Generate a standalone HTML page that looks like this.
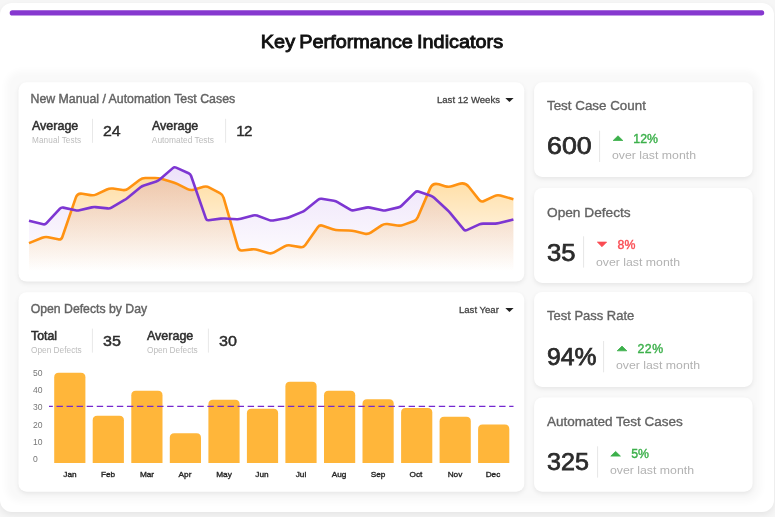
<!DOCTYPE html>
<html lang="en">
<head>
<meta charset="utf-8">
<title>Key Performance Indicators</title>
<style>
html,body{margin:0;padding:0;}
body{width:775px;height:517px;overflow:hidden;background:#f6f6f6;font-family:"Liberation Sans", sans-serif;position:relative;}
.t{position:absolute;white-space:nowrap;line-height:1;}
.outer{position:absolute;left:0;top:3px;width:774px;height:509px;background:#fff;border-radius:12px;box-shadow:0 3px 7px rgba(0,0,0,0.07);}
.panel{position:absolute;left:11px;top:76px;width:745px;height:421px;background:#f9f9f9;border-radius:10px;box-shadow:0 0 7px 5px #f9f9f9;}
</style>
</head>
<body>
<div class="outer"></div>
<div class="panel"></div>

<svg width="775" height="517" viewBox="0 0 775 517" style="position:absolute;left:0;top:0">
<defs>
<linearGradient id="go" gradientUnits="userSpaceOnUse" x1="0" y1="175" x2="0" y2="271">
<stop offset="0" stop-color="#ffb433" stop-opacity="0.46"/><stop offset="1" stop-color="#ffb433" stop-opacity="0"/></linearGradient>
<linearGradient id="gp" gradientUnits="userSpaceOnUse" x1="0" y1="165" x2="0" y2="271">
<stop offset="0" stop-color="#8a3fd8" stop-opacity="0.16"/><stop offset="1" stop-color="#8a3fd8" stop-opacity="0"/></linearGradient>
<filter id="sh" x="-10%" y="-20%" width="120%" height="140%"><feGaussianBlur stdDeviation="2.2"/></filter>
</defs>
<rect x="18.50" y="84.30" width="505.80" height="199.30" rx="8" fill="#000" fill-opacity="0.075" filter="url(#sh)"/><rect x="18.50" y="82.30" width="505.80" height="199.30" rx="8" fill="#fff"/><rect x="18.50" y="294.20" width="505.80" height="199.50" rx="8" fill="#000" fill-opacity="0.075" filter="url(#sh)"/><rect x="18.50" y="292.20" width="505.80" height="199.50" rx="8" fill="#fff"/><rect x="534.10" y="84.30" width="218.50" height="94.60" rx="8" fill="#000" fill-opacity="0.075" filter="url(#sh)"/><rect x="534.10" y="82.30" width="218.50" height="94.60" rx="8" fill="#fff"/><rect x="534.10" y="190.00" width="218.50" height="94.90" rx="8" fill="#000" fill-opacity="0.075" filter="url(#sh)"/><rect x="534.10" y="188.00" width="218.50" height="94.90" rx="8" fill="#fff"/><rect x="534.10" y="294.00" width="218.50" height="94.90" rx="8" fill="#000" fill-opacity="0.075" filter="url(#sh)"/><rect x="534.10" y="292.00" width="218.50" height="94.90" rx="8" fill="#fff"/><rect x="534.10" y="399.50" width="218.50" height="94.20" rx="8" fill="#000" fill-opacity="0.075" filter="url(#sh)"/><rect x="534.10" y="397.50" width="218.50" height="94.20" rx="8" fill="#fff"/>
<rect x="599.10" y="130.70" width="1" height="31.30" fill="#e6e6e6"/><rect x="583.10" y="236.30" width="1" height="31.30" fill="#e6e6e6"/><rect x="603.10" y="341.00" width="1" height="31.30" fill="#e6e6e6"/><rect x="597.10" y="446.30" width="1" height="31.30" fill="#e6e6e6"/><rect x="92.00" y="118.80" width="1" height="24.00" fill="#e8e8e8"/><rect x="225.10" y="118.80" width="1" height="24.00" fill="#e8e8e8"/><rect x="91.90" y="328.60" width="1" height="24.00" fill="#e8e8e8"/><rect x="207.90" y="328.60" width="1" height="24.00" fill="#e8e8e8"/>
<path d="M29.00,243.10 L42.18,237.71 Q45.15,236.50 48.27,237.18 L58.17,239.32 Q61.29,240.00 62.33,236.97 L75.82,197.63 Q77.44,192.90 82.37,193.75 L90.43,195.15 Q93.59,195.70 96.48,194.34 L106.84,189.46 Q109.73,188.10 112.90,188.57 L122.71,190.03 Q125.88,190.50 128.41,188.54 L139.50,179.96 Q142.03,178.00 145.23,178.00 L154.97,178.00 Q158.17,178.00 161.26,178.86 L171.24,181.64 Q174.32,182.50 177.19,183.92 L187.60,189.08 Q190.47,190.50 193.55,189.64 L203.53,186.86 Q206.61,186.00 209.43,187.52 L219.94,193.18 Q222.76,194.70 223.65,197.78 L238.02,247.72 Q238.91,250.80 242.09,250.45 L251.87,249.35 Q255.05,249.00 258.11,249.95 L268.14,253.05 Q271.20,254.00 273.99,252.43 L284.56,246.47 Q287.35,244.90 290.50,245.45 L300.34,247.15 Q303.49,247.70 305.33,245.08 L317.80,227.32 Q319.64,224.70 322.67,225.73 L332.76,229.17 Q335.79,230.20 338.99,230.28 L348.73,230.52 Q351.93,230.60 355.05,231.33 L364.97,233.67 Q368.08,234.40 370.74,232.62 L381.57,225.38 Q384.23,223.60 387.39,224.07 L397.21,225.53 Q400.37,226.00 403.38,224.90 L413.51,221.20 Q416.52,220.10 417.78,217.16 L430.11,188.38 Q432.67,182.40 438.89,184.29 L444.99,186.14 Q448.81,187.30 452.61,186.03 L458.80,183.96 Q464.96,181.90 468.98,187.01 L479.13,199.89 Q481.11,202.40 484.00,201.02 L494.36,196.08 Q497.25,194.70 500.34,195.56 L513.40,199.20 L513.4,273.0 L29.0,273.0 Z" fill="url(#go)"/>
<path d="M29.00,220.80 L43.20,224.23 Q45.15,224.70 46.50,223.23 L59.94,208.67 Q61.29,207.20 63.25,207.62 L75.49,210.28 Q77.44,210.70 79.39,210.24 L91.64,207.36 Q93.59,206.90 95.58,207.11 L107.74,208.39 Q109.73,208.60 111.46,207.59 L124.15,200.21 Q125.88,199.20 127.43,197.93 L140.48,187.27 Q142.03,186.00 143.93,185.39 L156.27,181.41 Q158.17,180.80 159.68,179.49 L172.81,168.11 Q174.32,166.80 176.14,167.62 L188.64,173.28 Q190.47,174.10 191.12,175.99 L205.96,218.61 Q206.61,220.50 208.60,220.24 L220.78,218.66 Q222.76,218.40 224.76,218.52 L236.91,219.28 Q238.91,219.40 240.83,218.86 L253.13,215.44 Q255.05,214.90 256.93,215.59 L269.32,220.11 Q271.20,220.80 273.17,220.46 L285.38,218.34 Q287.35,218.00 289.20,217.24 L301.64,212.16 Q303.49,211.40 305.06,210.15 L318.08,199.75 Q319.64,198.50 321.62,198.81 L333.81,200.69 Q335.79,201.00 337.50,202.03 L350.22,209.67 Q351.93,210.70 353.89,210.28 L366.13,207.62 Q368.08,207.20 370.03,207.62 L382.27,210.28 Q384.23,210.70 386.17,210.24 L398.43,207.36 Q400.37,206.90 401.79,205.49 L415.10,192.31 Q416.52,190.90 418.41,191.54 L430.77,195.76 Q432.67,196.40 434.13,197.76 L447.35,210.04 Q448.81,211.40 450.09,212.94 L463.68,229.36 Q464.96,230.90 466.78,230.08 L479.28,224.42 Q481.11,223.60 483.11,223.60 L495.25,223.60 Q497.25,223.60 499.19,223.10 L513.40,219.40 L513.4,273.0 L29.0,273.0 Z" fill="url(#gp)"/>
<path d="M29.00,243.10 L42.18,237.71 Q45.15,236.50 48.27,237.18 L58.17,239.32 Q61.29,240.00 62.33,236.97 L75.82,197.63 Q77.44,192.90 82.37,193.75 L90.43,195.15 Q93.59,195.70 96.48,194.34 L106.84,189.46 Q109.73,188.10 112.90,188.57 L122.71,190.03 Q125.88,190.50 128.41,188.54 L139.50,179.96 Q142.03,178.00 145.23,178.00 L154.97,178.00 Q158.17,178.00 161.26,178.86 L171.24,181.64 Q174.32,182.50 177.19,183.92 L187.60,189.08 Q190.47,190.50 193.55,189.64 L203.53,186.86 Q206.61,186.00 209.43,187.52 L219.94,193.18 Q222.76,194.70 223.65,197.78 L238.02,247.72 Q238.91,250.80 242.09,250.45 L251.87,249.35 Q255.05,249.00 258.11,249.95 L268.14,253.05 Q271.20,254.00 273.99,252.43 L284.56,246.47 Q287.35,244.90 290.50,245.45 L300.34,247.15 Q303.49,247.70 305.33,245.08 L317.80,227.32 Q319.64,224.70 322.67,225.73 L332.76,229.17 Q335.79,230.20 338.99,230.28 L348.73,230.52 Q351.93,230.60 355.05,231.33 L364.97,233.67 Q368.08,234.40 370.74,232.62 L381.57,225.38 Q384.23,223.60 387.39,224.07 L397.21,225.53 Q400.37,226.00 403.38,224.90 L413.51,221.20 Q416.52,220.10 417.78,217.16 L430.11,188.38 Q432.67,182.40 438.89,184.29 L444.99,186.14 Q448.81,187.30 452.61,186.03 L458.80,183.96 Q464.96,181.90 468.98,187.01 L479.13,199.89 Q481.11,202.40 484.00,201.02 L494.36,196.08 Q497.25,194.70 500.34,195.56 L513.40,199.20" fill="none" stroke="#ff9212" stroke-width="2.6" stroke-linejoin="round" stroke-linecap="butt"/>
<path d="M29.00,220.80 L43.20,224.23 Q45.15,224.70 46.50,223.23 L59.94,208.67 Q61.29,207.20 63.25,207.62 L75.49,210.28 Q77.44,210.70 79.39,210.24 L91.64,207.36 Q93.59,206.90 95.58,207.11 L107.74,208.39 Q109.73,208.60 111.46,207.59 L124.15,200.21 Q125.88,199.20 127.43,197.93 L140.48,187.27 Q142.03,186.00 143.93,185.39 L156.27,181.41 Q158.17,180.80 159.68,179.49 L172.81,168.11 Q174.32,166.80 176.14,167.62 L188.64,173.28 Q190.47,174.10 191.12,175.99 L205.96,218.61 Q206.61,220.50 208.60,220.24 L220.78,218.66 Q222.76,218.40 224.76,218.52 L236.91,219.28 Q238.91,219.40 240.83,218.86 L253.13,215.44 Q255.05,214.90 256.93,215.59 L269.32,220.11 Q271.20,220.80 273.17,220.46 L285.38,218.34 Q287.35,218.00 289.20,217.24 L301.64,212.16 Q303.49,211.40 305.06,210.15 L318.08,199.75 Q319.64,198.50 321.62,198.81 L333.81,200.69 Q335.79,201.00 337.50,202.03 L350.22,209.67 Q351.93,210.70 353.89,210.28 L366.13,207.62 Q368.08,207.20 370.03,207.62 L382.27,210.28 Q384.23,210.70 386.17,210.24 L398.43,207.36 Q400.37,206.90 401.79,205.49 L415.10,192.31 Q416.52,190.90 418.41,191.54 L430.77,195.76 Q432.67,196.40 434.13,197.76 L447.35,210.04 Q448.81,211.40 450.09,212.94 L463.68,229.36 Q464.96,230.90 466.78,230.08 L479.28,224.42 Q481.11,223.60 483.11,223.60 L495.25,223.60 Q497.25,223.60 499.19,223.10 L513.40,219.40" fill="none" stroke="#7d36d2" stroke-width="2.6" stroke-linejoin="round" stroke-linecap="butt"/>
<path d="M54.2,463.0 L54.2,377.2 Q54.2,372.7 58.7,372.7 L80.9,372.7 Q85.4,372.7 85.4,377.2 L85.4,463.0 Z" fill="#ffb63a"/>
<path d="M92.7,463.0 L92.7,420.2 Q92.7,415.7 97.2,415.7 L119.4,415.7 Q123.9,415.7 123.9,420.2 L123.9,463.0 Z" fill="#ffb63a"/>
<path d="M131.3,463.0 L131.3,395.3 Q131.3,390.8 135.8,390.8 L158.0,390.8 Q162.5,390.8 162.5,395.3 L162.5,463.0 Z" fill="#ffb63a"/>
<path d="M169.8,463.0 L169.8,437.7 Q169.8,433.2 174.3,433.2 L196.5,433.2 Q201.0,433.2 201.0,437.7 L201.0,463.0 Z" fill="#ffb63a"/>
<path d="M208.4,463.0 L208.4,404.3 Q208.4,399.8 212.9,399.8 L235.1,399.8 Q239.6,399.8 239.6,404.3 L239.6,463.0 Z" fill="#ffb63a"/>
<path d="M246.9,463.0 L246.9,413.3 Q246.9,408.8 251.4,408.8 L273.6,408.8 Q278.1,408.8 278.1,413.3 L278.1,463.0 Z" fill="#ffb63a"/>
<path d="M285.4,463.0 L285.4,386.2 Q285.4,381.7 289.9,381.7 L312.1,381.7 Q316.6,381.7 316.6,386.2 L316.6,463.0 Z" fill="#ffb63a"/>
<path d="M324.0,463.0 L324.0,395.3 Q324.0,390.8 328.5,390.8 L350.7,390.8 Q355.2,390.8 355.2,395.3 L355.2,463.0 Z" fill="#ffb63a"/>
<path d="M362.5,463.0 L362.5,403.7 Q362.5,399.2 367.0,399.2 L389.2,399.2 Q393.7,399.2 393.7,403.7 L393.7,463.0 Z" fill="#ffb63a"/>
<path d="M401.1,463.0 L401.1,412.6 Q401.1,408.1 405.6,408.1 L427.8,408.1 Q432.3,408.1 432.3,412.6 L432.3,463.0 Z" fill="#ffb63a"/>
<path d="M439.6,463.0 L439.6,421.3 Q439.6,416.8 444.1,416.8 L466.3,416.8 Q470.8,416.8 470.8,421.3 L470.8,463.0 Z" fill="#ffb63a"/>
<path d="M478.1,463.0 L478.1,429.0 Q478.1,424.5 482.6,424.5 L504.8,424.5 Q509.3,424.5 509.3,429.0 L509.3,463.0 Z" fill="#ffb63a"/>
<line x1="49" y1="406.4" x2="513.5" y2="406.4" stroke="#7428d0" stroke-width="1.15" stroke-dasharray="6.4 3.66" stroke-dashoffset="2.55"/>
<path d="M613.20,140.50 L618.00,135.80 L622.80,140.50 Z" fill="#3cb04b" stroke="#3cb04b" stroke-width="0.8" stroke-linejoin="round"/><path d="M597.40,242.10 L602.00,246.70 L606.60,242.10 Z" fill="#fa4b52" stroke="#fa4b52" stroke-width="0.8" stroke-linejoin="round"/><path d="M617.20,350.80 L622.00,346.10 L626.80,350.80 Z" fill="#3cb04b" stroke="#3cb04b" stroke-width="0.8" stroke-linejoin="round"/><path d="M610.80,456.10 L615.60,451.40 L620.40,456.10 Z" fill="#3cb04b" stroke="#3cb04b" stroke-width="0.8" stroke-linejoin="round"/><rect x="9.7" y="10.3" width="754.6" height="5.2" rx="2.6" fill="#8638cf"/><path d="M505.3,97.9 L513.6,97.9 L509.45,102 Z" fill="#222"/><path d="M505.3,307.9 L513.6,307.9 L509.45,312 Z" fill="#222"/></svg>
<div class="t" style="top:471.23px;font-size:8px;color:#262626;left:-80.50px;width:300px;text-align:center;-webkit-text-stroke:0.35px #262626;transform:scaleX(1.03);transform-origin:center center;">Jan</div>
<div class="t" style="top:471.23px;font-size:8px;color:#262626;left:-41.96px;width:300px;text-align:center;-webkit-text-stroke:0.35px #262626;transform:scaleX(1.03);transform-origin:center center;">Feb</div>
<div class="t" style="top:471.23px;font-size:8px;color:#262626;left:-3.42px;width:300px;text-align:center;-webkit-text-stroke:0.35px #262626;transform:scaleX(1.03);transform-origin:center center;">Mar</div>
<div class="t" style="top:471.23px;font-size:8px;color:#262626;left:35.12px;width:300px;text-align:center;-webkit-text-stroke:0.35px #262626;transform:scaleX(1.03);transform-origin:center center;">Apr</div>
<div class="t" style="top:471.23px;font-size:8px;color:#262626;left:73.66px;width:300px;text-align:center;-webkit-text-stroke:0.35px #262626;transform:scaleX(1.03);transform-origin:center center;">May</div>
<div class="t" style="top:471.23px;font-size:8px;color:#262626;left:112.20px;width:300px;text-align:center;-webkit-text-stroke:0.35px #262626;transform:scaleX(1.03);transform-origin:center center;">Jun</div>
<div class="t" style="top:471.23px;font-size:8px;color:#262626;left:150.74px;width:300px;text-align:center;-webkit-text-stroke:0.35px #262626;transform:scaleX(1.03);transform-origin:center center;">Jul</div>
<div class="t" style="top:471.23px;font-size:8px;color:#262626;left:189.28px;width:300px;text-align:center;-webkit-text-stroke:0.35px #262626;transform:scaleX(1.03);transform-origin:center center;">Aug</div>
<div class="t" style="top:471.23px;font-size:8px;color:#262626;left:227.82px;width:300px;text-align:center;-webkit-text-stroke:0.35px #262626;transform:scaleX(1.03);transform-origin:center center;">Sep</div>
<div class="t" style="top:471.23px;font-size:8px;color:#262626;left:266.36px;width:300px;text-align:center;-webkit-text-stroke:0.35px #262626;transform:scaleX(1.03);transform-origin:center center;">Oct</div>
<div class="t" style="top:471.23px;font-size:8px;color:#262626;left:304.90px;width:300px;text-align:center;-webkit-text-stroke:0.35px #262626;transform:scaleX(1.03);transform-origin:center center;">Nov</div>
<div class="t" style="top:471.23px;font-size:8px;color:#262626;left:343.44px;width:300px;text-align:center;-webkit-text-stroke:0.35px #262626;transform:scaleX(1.03);transform-origin:center center;">Dec</div>
<div class="t" style="top:455.37px;font-size:8.3px;color:#777;left:33.10px;transform:scaleX(1.03);transform-origin:left center;">0</div>
<div class="t" style="top:438.07px;font-size:8.3px;color:#777;left:33.10px;transform:scaleX(1.03);transform-origin:left center;">10</div>
<div class="t" style="top:420.77px;font-size:8.3px;color:#777;left:33.10px;transform:scaleX(1.03);transform-origin:left center;">20</div>
<div class="t" style="top:403.47px;font-size:8.3px;color:#777;left:33.10px;transform:scaleX(1.03);transform-origin:left center;">30</div>
<div class="t" style="top:386.17px;font-size:8.3px;color:#777;left:33.10px;transform:scaleX(1.03);transform-origin:left center;">40</div>
<div class="t" style="top:368.87px;font-size:8.3px;color:#777;left:33.10px;transform:scaleX(1.03);transform-origin:left center;">50</div>
<div class="t" style="top:32.12px;font-size:19.0px;color:#111;left:232.35px;width:300px;text-align:center;-webkit-text-stroke:0.9px #111;word-spacing:-1.3px;transform:scaleX(1.045);transform-origin:center center;">Key Performance Indicators</div>
<div class="t" style="top:92.96px;font-size:12.33px;color:#636363;left:30.50px;-webkit-text-stroke:0.4px #636363;">New Manual / Automation Test Cases</div>
<div class="t" style="top:95.02px;font-size:9.55px;color:#444;left:437.00px;-webkit-text-stroke:0.3px #444;">Last 12 Weeks</div>
<div class="t" style="top:119.87px;font-size:12.2px;color:#2e2e2e;left:32.00px;-webkit-text-stroke:0.5px #2e2e2e;transform:scaleX(1.025);transform-origin:left center;">Average</div>
<div class="t" style="top:136.56px;font-size:8.2px;color:#bdbdbd;left:32.00px;letter-spacing:0.1px;">Manual Tests</div>
<div class="t" style="top:123.23px;font-size:15.2px;color:#2b2b2b;left:103.00px;-webkit-text-stroke:0.4px #2b2b2b;transform:scaleX(1.05);transform-origin:left center;">24</div>
<div class="t" style="top:119.87px;font-size:12.2px;color:#2e2e2e;left:151.70px;-webkit-text-stroke:0.5px #2e2e2e;transform:scaleX(1.025);transform-origin:left center;">Average</div>
<div class="t" style="top:136.39px;font-size:8.4px;color:#bdbdbd;left:151.80px;">Automated Tests</div>
<div class="t" style="top:123.23px;font-size:15.2px;color:#2b2b2b;left:236.30px;-webkit-text-stroke:0.4px #2b2b2b;letter-spacing:-0.7px;">12</div>
<div class="t" style="top:303.03px;font-size:12.25px;color:#636363;left:30.70px;-webkit-text-stroke:0.4px #636363;">Open Defects by Day</div>
<div class="t" style="top:305.02px;font-size:9.55px;color:#444;left:459.00px;-webkit-text-stroke:0.3px #444;">Last Year</div>
<div class="t" style="top:329.79px;font-size:12.3px;color:#2e2e2e;left:31.00px;-webkit-text-stroke:0.55px #2e2e2e;">Total</div>
<div class="t" style="top:345.67px;font-size:8.3px;color:#bdbdbd;left:31.00px;">Open Defects</div>
<div class="t" style="top:333.28px;font-size:15.5px;color:#2b2b2b;left:103.40px;-webkit-text-stroke:0.45px #2b2b2b;transform:scaleX(1.04);transform-origin:left center;">35</div>
<div class="t" style="top:329.87px;font-size:12.2px;color:#2e2e2e;left:147.00px;-webkit-text-stroke:0.5px #2e2e2e;transform:scaleX(1.025);transform-origin:left center;">Average</div>
<div class="t" style="top:345.67px;font-size:8.3px;color:#bdbdbd;left:147.00px;">Open Defects</div>
<div class="t" style="top:333.28px;font-size:15.5px;color:#2b2b2b;left:219.40px;-webkit-text-stroke:0.45px #2b2b2b;transform:scaleX(1.04);transform-origin:left center;">30</div>
<div class="t" style="top:99.07px;font-size:13.39px;color:#636363;left:547.00px;-webkit-text-stroke:0.35px #636363;">Test Case Count</div>
<div class="t" style="top:134.48px;font-size:24px;color:#2b2b2b;left:547.20px;-webkit-text-stroke:0.75px #2b2b2b;transform:scaleX(1.115);transform-origin:left center;">600</div>
<div class="t" style="top:132.79px;font-size:12.3px;color:#3cb04b;left:633.30px;-webkit-text-stroke:0.4px #3cb04b;">12%</div>
<div class="t" style="top:149.77px;font-size:11.5px;color:#b2b2b2;left:612.00px;transform:scaleX(1.068);transform-origin:left center;">over last month</div>
<div class="t" style="top:205.70px;font-size:13.7px;color:#636363;left:547.00px;-webkit-text-stroke:0.35px #636363;">Open Defects</div>
<div class="t" style="top:241.38px;font-size:24px;color:#2b2b2b;left:547.30px;-webkit-text-stroke:0.75px #2b2b2b;transform:scaleX(1.065);transform-origin:left center;">35</div>
<div class="t" style="top:238.79px;font-size:12.3px;color:#fa4b52;left:617.60px;-webkit-text-stroke:0.4px #fa4b52;">8%</div>
<div class="t" style="top:256.67px;font-size:11.5px;color:#b2b2b2;left:596.00px;transform:scaleX(1.068);transform-origin:left center;">over last month</div>
<div class="t" style="top:310.22px;font-size:12.97px;color:#636363;left:547.00px;-webkit-text-stroke:0.35px #636363;">Test Pass Rate</div>
<div class="t" style="top:344.78px;font-size:24px;color:#2b2b2b;left:547.30px;-webkit-text-stroke:0.75px #2b2b2b;transform:scaleX(1.03);transform-origin:left center;">94%</div>
<div class="t" style="top:343.09px;font-size:12.3px;color:#3cb04b;left:637.50px;-webkit-text-stroke:0.4px #3cb04b;letter-spacing:0.5px;">22%</div>
<div class="t" style="top:360.07px;font-size:11.5px;color:#b2b2b2;left:616.00px;transform:scaleX(1.068);transform-origin:left center;">over last month</div>
<div class="t" style="top:414.54px;font-size:13.54px;color:#636363;left:547.00px;-webkit-text-stroke:0.35px #636363;">Automated Test Cases</div>
<div class="t" style="top:450.08px;font-size:24px;color:#2b2b2b;left:546.80px;-webkit-text-stroke:0.75px #2b2b2b;transform:scaleX(1.045);transform-origin:left center;">325</div>
<div class="t" style="top:448.39px;font-size:12.3px;color:#3cb04b;left:631.20px;-webkit-text-stroke:0.4px #3cb04b;">5%</div>
<div class="t" style="top:465.37px;font-size:11.5px;color:#b2b2b2;left:609.60px;transform:scaleX(1.068);transform-origin:left center;">over last month</div>
</body>
</html>
